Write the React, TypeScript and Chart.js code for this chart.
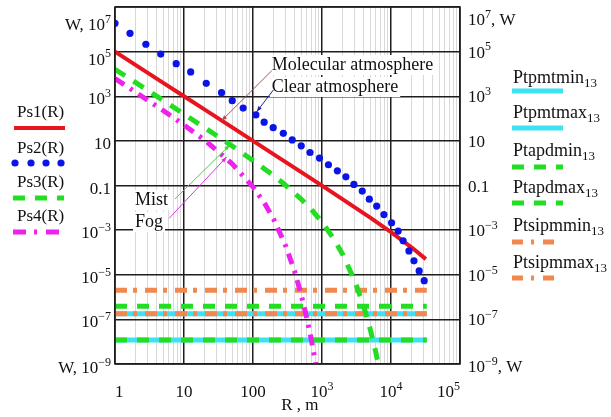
import React, { useEffect, useRef } from "react";
import { Chart, registerables } from "chart.js";
Chart.register(...registerables);

// ---------- data ----------
const R1 = [1, 2, 5, 10, 20, 50, 100, 200, 500, 1000, 2000, 5000, 10000, 20000, 32000];
const Ps1 = [1e5, 2.5e4, 4.0e3, 1.0e3, 250, 40, 10, 2.5, 0.4, 0.098, 0.024, 3.6e-3, 8.1e-4, 1.66e-4, 5.0e-5];

const R2 = [1, 1.65, 2.8, 4.6, 7.7, 12.5, 21, 35, 50, 72, 110, 145, 196, 275, 370, 500, 670, 920, 1240, 1670, 2220, 2900, 3830, 4850, 6200, 7900, 10200, 12700, 15000, 18200, 21500, 25600, 30300];
const Ps2 = [1.86e6, 6.6e5, 2.14e5, 7.76e4, 2.88e4, 1.23e4, 3.8e3, 1.45e3, 631, 295, 145, 69, 38.9, 21.9, 11.0, 6.03, 3.02, 1.7, 0.85, 0.457, 0.245, 0.112, 0.056, 0.0245, 0.012, 5.0e-3, 2.14e-3, 9.1e-4, 3.3e-4, 1.17e-4, 4.2e-5, 1.48e-5, 5.4e-6];

const R3 = [1, 2, 5, 10, 20, 50, 100, 200, 300, 500, 700, 1000, 1500, 2000, 3000, 4000, 5000, 6000, 7000];
const Ps3 = [1.62e4, 4.07e3, 646, 158, 38.9, 5.89, 1.32, 0.275, 0.1, 0.0245, 8.5e-3, 2.3e-3, 3.8e-4, 8.1e-5, 5.1e-6, 4.1e-7, 3.6e-8, 3.5e-9, 3.7e-10];

const R4 = [1, 2, 5, 10, 20, 50, 100, 150, 200, 300, 400, 500, 600, 700, 800, 850];
const Ps4 = [6.2e3, 1.5e3, 229, 51, 10.7, 0.93, 0.087, 0.0145, 3.0e-3, 1.86e-4, 1.45e-5, 1.26e-6, 1.2e-7, 1.23e-8, 1.29e-9, 4.3e-10];

const RT = [1, 3.3e4];
const Ptpmtmin = 1.2e-8;
const Ptpmtmax = 1.8e-7;
const Ptapdmin = 1.2e-8;
const Ptapdmax = 3.9e-7;
const Ptsipmmin = 1.8e-7;
const Ptsipmmax = 2.0e-6;

const leftNames = ["Ps1(R)", "Ps2(R)", "Ps3(R)", "Ps4(R)"];
const rightNames = ["Ptpmtmin_{13}", "Ptpmtmax_{13}", "Ptapdmin_{13}", "Ptapdmax_{13}", "Ptsipmmin_{13}", "Ptsipmmax_{13}"];

const yTickValues = [1e7, 1e5, 1e3, 10, 0.1, 1e-3, 1e-5, 1e-7, 1e-9];
const yLabelsLeft = ["W, 10^{7}", "10^{5}", "10^{3}", "10", "0.1", "10^{\u22123}", "10^{\u22125}", "10^{\u22127}", "W, 10^{\u22129}"];
const yLabelsRight = ["10^{7}, W", "10^{5}", "10^{3}", "10", "0.1", "10^{\u22123}", "10^{\u22125}", "10^{\u22127}", "10^{\u22129}, W"];
const xTickValues = [1, 10, 100, 1e3, 1e4, 1e5];
const xLabels = ["1", "10", "100", "10^{3}", "10^{4}", "10^{5}"];
const xTitle = "R , m";

const annotations = [
  { text: "Molecular atmosphere", tx: 187, ty: 1.5e4, from: [187, 1.4e4], to: [35, 80], color: "#a8505a" },
  { text: "Clear atmosphere", tx: 187, ty: 1.55e3, from: [197, 1.9e3], to: [113, 200], color: "#2020a0" },
  { text: "Mist", tx: 1.95, ty: 0.0132, from: [7.4, 0.025], to: [46, 6.5], color: "#33dd33" },
  { text: "Fog", tx: 1.95, ty: 1.35e-3, from: [6.1, 3.4e-3], to: [41.5, 1.9], color: "#dd33dd" },
];

// ---------- styles ----------
const RED = "#e8141e";
const BLUE = "#0a14e6";
const GREEN = "#22dd22";
const MAGENTA = "#ee22ee";
const CYAN = "#3ce2f2";
const ORANGE = "#f08850";
const TEXT = "#111111";
const FONT = '"Liberation Serif", "Times New Roman", serif';

const DASH3 = [12, 10];
const DASH4 = [11, 7, 3, 7];
const DASHO = [12, 6, 4, 8];

function isMajor(v: number) {
  const l = Math.log10(v);
  return Math.abs(l - Math.round(l)) < 1e-9;
}

function segments(text: string) {
  const out: { t: string; k: string }[] = [];
  const re = /(\^|_)\{([^}]*)\}/g;
  let last = 0;
  let m: RegExpExecArray | null;
  while ((m = re.exec(text))) {
    if (m.index > last) out.push({ t: text.slice(last, m.index), k: "n" });
    out.push({ t: m[2], k: m[1] === "^" ? "sup" : "sub" });
    last = m.index + m[0].length;
  }
  if (last < text.length) out.push({ t: text.slice(last), k: "n" });
  return out;
}

function richWidth(ctx: CanvasRenderingContext2D, text: string, size: number) {
  let w = 0;
  for (const s of segments(text)) {
    ctx.font = `${s.k === "n" ? size : Math.round(size * 0.7)}px ${FONT}`;
    w += ctx.measureText(s.t).width;
  }
  return w;
}

function drawRich(ctx: CanvasRenderingContext2D, text: string, x: number, y: number, align: string, size: number) {
  const w = richWidth(ctx, text, size);
  let cx = align === "right" ? x - w : align === "center" ? x - w / 2 : x;
  ctx.textBaseline = "alphabetic";
  ctx.textAlign = "left";
  for (const s of segments(text)) {
    const sz = s.k === "n" ? size : Math.round(size * 0.7);
    ctx.font = `${sz}px ${FONT}`;
    const dy = s.k === "sup" ? -size * 0.42 : s.k === "sub" ? size * 0.22 : 0;
    ctx.fillText(s.t, cx, y + dy);
    cx += ctx.measureText(s.t).width;
  }
  return w;
}

function sample(ctx: CanvasRenderingContext2D, x0: number, x1: number, y: number, color: string, width: number, dash: number[]) {
  ctx.save();
  ctx.strokeStyle = color;
  ctx.lineWidth = width;
  ctx.setLineDash(dash);
  ctx.lineCap = "butt";
  ctx.beginPath();
  ctx.moveTo(x0, y);
  ctx.lineTo(x1, y);
  ctx.stroke();
  ctx.restore();
}

const overlay = {
  id: "overlay",
  afterDraw(chart: any) {
    const ctx: CanvasRenderingContext2D = chart.ctx;
    const xs = chart.scales.x;
    const ys = chart.scales.y;
    const a = chart.chartArea;
    ctx.save();
    // frame
    ctx.strokeStyle = "#1e1e1e";
    ctx.lineWidth = 1.5;
    ctx.strokeRect(a.left, a.top, a.right - a.left, a.bottom - a.top);

    ctx.fillStyle = TEXT;
    const TS = 17;
    // y labels
    yTickValues.forEach((v, i) => {
      const py = ys.getPixelForValue(v);
      let bl = py + 8;
      if (i === 0) bl = a.top + 23;
      else if (i === 1) bl = py + 13;
      else if (i === yTickValues.length - 1) bl = py + 9;
      drawRich(ctx, yLabelsLeft[i], a.left - 4, bl, "right", TS);
      let br = py + 6;
      if (i === 0) br = a.top + 18;
      else if (i === yTickValues.length - 1) br = py + 8;
      drawRich(ctx, yLabelsRight[i], a.right + 8, br, "left", TS);
    });
    // x labels
    xTickValues.forEach((v, i) => {
      const px = xs.getPixelForValue(v);
      const w = richWidth(ctx, xLabels[i], TS);
      let left = px - w / 2;
      if (left < a.left) left = a.left;
      if (left + w > a.right) left = a.right - w;
      drawRich(ctx, xLabels[i], left, a.bottom + 33, "left", TS);
    });
    drawRich(ctx, xTitle, a.left + (a.right - a.left) * 0.536, a.bottom + 46, "center", TS);

    // annotations
    const AS = 18;
    annotations.forEach((an) => {
      const x = xs.getPixelForValue(an.tx);
      const y = ys.getPixelForValue(an.ty);
      ctx.font = `${AS}px ${FONT}`;
      const w = ctx.measureText(an.text).width;
      ctx.fillStyle = "#ffffff";
      ctx.fillRect(x - 2, y - 15, w + 4, 20);
    });
    annotations.forEach((an) => {
      const x = xs.getPixelForValue(an.tx);
      const y = ys.getPixelForValue(an.ty);
      ctx.fillStyle = TEXT;
      drawRich(ctx, an.text, x, y, "left", AS);
      const x0 = xs.getPixelForValue(an.from[0]);
      const y0 = ys.getPixelForValue(an.from[1]);
      const x1 = xs.getPixelForValue(an.to[0]);
      const y1 = ys.getPixelForValue(an.to[1]);
      ctx.strokeStyle = an.color;
      ctx.lineWidth = 1;
      ctx.setLineDash([]);
      ctx.beginPath();
      ctx.moveTo(x0, y0);
      ctx.lineTo(x1, y1);
      ctx.stroke();
      // small arrow head
      const ang = Math.atan2(y1 - y0, x1 - x0);
      ctx.fillStyle = an.color;
      ctx.beginPath();
      ctx.moveTo(x1, y1);
      ctx.lineTo(x1 - 6 * Math.cos(ang - 0.35), y1 - 6 * Math.sin(ang - 0.35));
      ctx.lineTo(x1 - 6 * Math.cos(ang + 0.35), y1 - 6 * Math.sin(ang + 0.35));
      ctx.closePath();
      ctx.fill();
    });

    // left legend
    const LS = 17;
    ctx.fillStyle = TEXT;
    const lBase = [117, 153, 187, 221];
    const lLine = [128, 163, 198, 232];
    leftNames.forEach((n, i) => {
      drawRich(ctx, n, 17, lBase[i], "left", LS);
    });
    sample(ctx, 14, 65, lLine[0], RED, 4, []);
    ctx.fillStyle = BLUE;
    [15, 31, 46, 61].forEach((dx) => {
      ctx.beginPath();
      ctx.arc(dx, lLine[1], 3.6, 0, Math.PI * 2);
      ctx.fill();
    });
    sample(ctx, 13, 64, lLine[2], GREEN, 5, DASH3);
    sample(ctx, 13, 61, lLine[3], MAGENTA, 5, [13, 8, 3, 9]);

    // right legend
    const RS = 18;
    ctx.fillStyle = TEXT;
    const rBase = [83, 118, 156, 193, 231, 268];
    const rLine = [91, 128, 167, 203, 242, 278];
    rightNames.forEach((n, i) => {
      drawRich(ctx, n, 513, rBase[i], "left", RS);
    });
    sample(ctx, 512, 563, rLine[0], CYAN, 5, []);
    sample(ctx, 512, 563, rLine[1], CYAN, 5, []);
    sample(ctx, 512, 563, rLine[2], GREEN, 5, DASH3);
    sample(ctx, 512, 563, rLine[3], GREEN, 5, DASH3);
    sample(ctx, 512, 558, rLine[4], ORANGE, 5, [11, 8, 3, 9]);
    sample(ctx, 512, 558, rLine[5], ORANGE, 5, [11, 8, 3, 9]);
    ctx.restore();
  },
};

const xGrid: number[] = [];
for (let d = 0; d < 5; d++) for (let m = 1; m <= 9; m++) xGrid.push(m * Math.pow(10, d));
xGrid.push(1e5);

function pts(xs: number[], ys: number[]) {
  return xs.map((x, i) => ({ x, y: ys[i] }));
}
function flat(v: number) {
  return RT.map((x) => ({ x, y: v }));
}

export default function App() {
  const ref = useRef<HTMLCanvasElement>(null);
  useEffect(() => {
    const lineBase = { pointRadius: 0, clip: 0, borderCapStyle: "butt", borderJoinStyle: "round", tension: 0, fill: false };
    const chart = new Chart(ref.current as HTMLCanvasElement, {
      type: "line",
      data: {
        datasets: [
          { ...lineBase, label: leftNames[1], data: pts(R2, Ps2), showLine: false, pointRadius: 3.6, pointBackgroundColor: BLUE, pointBorderWidth: 0, borderColor: BLUE, order: 0 },
          { ...lineBase, label: leftNames[0], data: pts(R1, Ps1), borderColor: RED, borderWidth: 4, order: 1 },
          { ...lineBase, label: leftNames[2], data: pts(R3, Ps3), borderColor: GREEN, borderWidth: 5, borderDash: DASH3, order: 2 },
          { ...lineBase, label: leftNames[3], data: pts(R4, Ps4), borderColor: MAGENTA, borderWidth: 5, borderDash: DASH4, order: 3 },
          { ...lineBase, label: rightNames[5], data: flat(Ptsipmmax), borderColor: ORANGE, borderWidth: 5, borderDash: DASHO, order: 4 },
          { ...lineBase, label: rightNames[4], data: flat(Ptsipmmin), borderColor: ORANGE, borderWidth: 5, borderDash: DASHO, order: 5 },
          { ...lineBase, label: rightNames[3], data: flat(Ptapdmax), borderColor: GREEN, borderWidth: 5, borderDash: DASH3, order: 6 },
          { ...lineBase, label: rightNames[2], data: flat(Ptapdmin), borderColor: GREEN, borderWidth: 5, borderDash: DASH3, order: 7 },
          { ...lineBase, label: rightNames[1], data: flat(Ptpmtmax), borderColor: CYAN, borderWidth: 5, order: 8 },
          { ...lineBase, label: rightNames[0], data: flat(Ptpmtmin), borderColor: CYAN, borderWidth: 5, order: 9 },
        ] as any,
      },
      options: {
        animation: false,
        responsive: true,
        maintainAspectRatio: false,
        layout: { padding: { left: 115, right: 151, top: 7, bottom: 53 } },
        plugins: { legend: { display: false }, tooltip: { enabled: false } },
        events: [],
        scales: {
          x: {
            type: "logarithmic",
            min: 1,
            max: 1e5,
            afterBuildTicks: (s: any) => {
              s.ticks = xGrid.map((v) => ({ value: v }));
            },
            ticks: { display: false },
            border: { display: false },
            grid: {
              drawTicks: false,
              color: (c: any) => (isMajor(c.tick.value) ? "#1e1e1e" : "#d9d9d9"),
              lineWidth: (c: any) => (isMajor(c.tick.value) ? 1.5 : 1),
            },
          },
          y: {
            type: "logarithmic",
            min: 1e-9,
            max: 1e7,
            afterBuildTicks: (s: any) => {
              s.ticks = yTickValues.map((v) => ({ value: v }));
            },
            ticks: { display: false },
            border: { display: false },
            grid: { drawTicks: false, color: "#1e1e1e", lineWidth: 1.5 },
          },
        },
      } as any,
      plugins: [overlay],
    });
    return () => chart.destroy();
  }, []);
  return (
    <div style={{ position: "fixed", left: 0, top: 0, width: 611, height: 417, background: "#ffffff" }}>
      <canvas ref={ref} />
    </div>
  );
}
